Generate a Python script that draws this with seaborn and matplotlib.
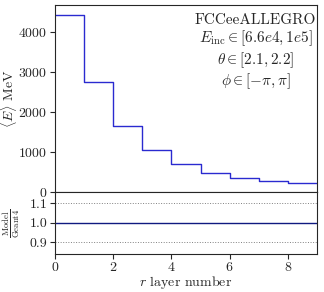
import numpy as np
import pandas as pd
import seaborn as sns
import matplotlib.pyplot as plt

# values
layers = [0, 1, 2, 3, 4, 5, 6, 7, 8]
mean_energy = [4440, 2740, 1650, 1040, 680, 475, 335, 265, 205]
ratio = [1.000, 1.000, 1.000, 1.000, 0.997, 1.000, 1.000, 1.000, 1.000]
info_lines = ["FCCeeALLEGRO",
              r"$E_{\rm inc}\in[6.6e4, 1e5]$",
              r"$\theta\in[2.1, 2.2]$",
              r"$\phi\in[-\pi, \pi]$"]

sns.set_style("ticks")
plt.rcParams['font.family'] = 'serif'
plt.rcParams['font.serif'] = ['cmr10', 'DejaVu Serif']
plt.rcParams['mathtext.fontset'] = 'cm'
plt.rcParams['axes.formatter.use_mathtext'] = True
plt.rcParams['axes.unicode_minus'] = False

# steps need the last edge at 9
edges = layers + [layers[-1] + 1]
main_df = pd.DataFrame({'r': edges, 'E': mean_energy + [mean_energy[-1]]})
ratio_df = pd.DataFrame({'r': edges, 'ratio': ratio + [ratio[-1]]})

fig, (ax, rax) = plt.subplots(2, 1, figsize=(3.24, 2.92), dpi=100, sharex=True,
                              gridspec_kw={'height_ratios': [3, 1], 'hspace': 0})
fig.subplots_adjust(left=0.170, right=0.978, top=0.983, bottom=0.131)

sns.lineplot(data=main_df, x='r', y='E', ax=ax, drawstyle='steps-post',
             color='#2a2ad0', linewidth=1.0)
ax.set_xlim(0, 9)
ax.set_ylim(0, 4680)
ax.set_yticks([0, 1000, 2000, 3000, 4000])
ax.set_ylabel(r'$\langle E\rangle$ MeV', fontsize=10)
ax.yaxis.set_label_coords(-0.137, 0.5)
ax.set_xlabel('')
ax.tick_params(axis='x', bottom=False, labelbottom=False)
ax.tick_params(labelsize=10, length=3.5, pad=2)
ax.text(0.765, 0.955, "\n".join(info_lines), transform=ax.transAxes,
        ha='center', va='top', fontsize=11, linespacing=1.12)

sns.lineplot(data=ratio_df, x='r', y='ratio', ax=rax, drawstyle='steps-post',
             color='#101a80', linewidth=1.0)
for v in [0.9, 1.1]:
    rax.axhline(v, color='gray', linestyle=':', linewidth=0.7)
rax.set_ylim(0.84, 1.16)
rax.set_yticks([0.9, 1.0, 1.1])
rax.set_yticklabels(['0.9', '1.0', '1.1'])
rax.set_xticks([0, 2, 4, 6, 8])
rax.set_ylabel(r'$\frac{\rm Model}{\rm Geant4}$', fontsize=9)
rax.yaxis.set_label_coords(-0.128, 0.5)
rax.set_xlabel(r'$r$ layer number', fontsize=10, labelpad=0)
rax.tick_params(labelsize=10, length=3.5, pad=2)

fig.savefig('out.png', dpi=100)
